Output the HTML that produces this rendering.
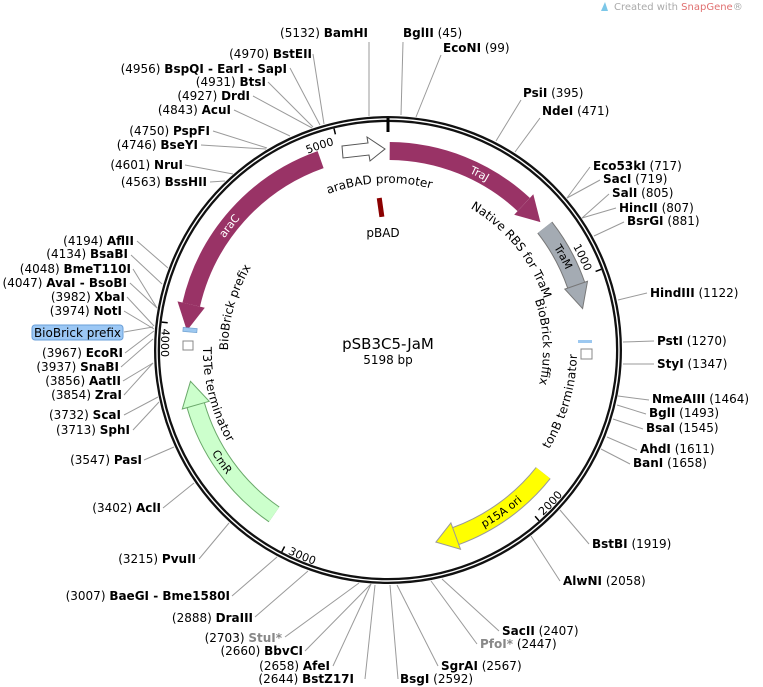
<!DOCTYPE html>
<html><head><meta charset="utf-8">
<style>
html,body{margin:0;padding:0;background:#fff;}
svg{display:block;font-family:"DejaVu Sans","Liberation Sans",sans-serif;}
.n{font-size:11px;fill:#000;}
.e{font-size:12px;}
.b{font-weight:bold;}
.g{fill:#888;}
.ln{stroke:#9a9a9a;stroke-width:1;fill:none;}
.fl{font-size:12px;}
</style></head>
<body>
<svg width="763" height="687" viewBox="0 0 763 687" xmlns="http://www.w3.org/2000/svg">
<defs>
<path id="p5000" d="M270.4,173.6 A212,212 0 0 1 334.2,144.9"/>
<path id="p1000" d="M548.6,211.6 A212,212 0 0 1 585,271.6"/>
<path id="p2000" d="M536,511.5 A219,219 0 0 0 582.3,451.1"/>
<path id="p3000" d="M289.3,545.5 A219,219 0 0 0 362.1,567.5"/>
<path id="p4000" d="M170.2,327.1 A219,219 0 0 0 175.5,403"/>
<path id="tTraJ" d="M422.5,154 A199,199 0 0 1 528.7,209.3"/>
<path id="tTraM" d="M540.4,222.1 A199,199 0 0 1 579.3,295.2"/>
<path id="taraC" d="M202.1,271.1 A202,202 0 0 1 266.4,188.7"/>
<path id="tCmR" d="M196.7,408.5 A200,200 0 0 0 262.1,505.4"/>
<path id="tori" d="M459,534.9 A198,198 0 0 0 537.4,479.9"/>
<path id="tara" d="M287.5,216.6 A167,167 0 0 1 474,206.8"/>
<path id="trbs" d="M457.3,201.4 A164,164 0 0 1 547.8,313.1"/>
<path id="tsuf" d="M524.9,277.2 A155,155 0 0 1 531.7,408.1"/>
<path id="tton" d="M515.3,477.3 A180,180 0 0 0 564.1,312.6"/>
<path id="tpre" d="M233.5,391.4 A160,160 0 0 1 276.9,234.9"/>
<path id="tt3" d="M218,304.5 A176,176 0 0 0 261.4,472.3"/>
</defs>

<path d="M601,11 L605,2 L608,11 Z" fill="#7cc7e8"/>
<text x="614" y="10" style="font-size:10px" fill="#aaa">Created with <tspan fill="#e07070">SnapGene</tspan>®</text>

<circle cx="388" cy="350" r="231" fill="none" stroke="#111" stroke-width="6"/>
<circle cx="388" cy="350" r="231" fill="none" stroke="#fff" stroke-width="1.4"/>

<line x1="388" y1="118" x2="388" y2="132" stroke="#000" stroke-width="3"/>
<line x1="335.4" y1="134.3" x2="334" y2="128.5" stroke="#000" stroke-width="1.5"/>
<line x1="595.6" y1="271.4" x2="601.2" y2="269.3" stroke="#000" stroke-width="1.5"/>
<line x1="535.1" y1="516.3" x2="539" y2="520.8" stroke="#000" stroke-width="1.5"/>
<line x1="284.6" y1="546.5" x2="281.8" y2="551.8" stroke="#000" stroke-width="1.5"/>
<line x1="167.7" y1="322.8" x2="161.7" y2="322.1" stroke="#000" stroke-width="1.5"/>
<text class="n"><textPath href="#p5000" startOffset="100%" text-anchor="end">5000</textPath></text>
<text class="n"><textPath href="#p1000" startOffset="100%" text-anchor="end">1000</textPath></text>
<text class="n" dominant-baseline="hanging"><textPath href="#p2000" startOffset="2">2000</textPath></text>
<text class="n" dominant-baseline="hanging"><textPath href="#p3000" startOffset="2">3000</textPath></text>
<text class="n" dominant-baseline="hanging"><textPath href="#p4000" startOffset="2">4000</textPath></text>

<path d="M389.7,151 A199,199 0 0 1 523.7,204.5" fill="none" stroke="#993366" stroke-width="18"/>
<polygon points="514.2,214.7 533.3,194.2 540.4,222.1" fill="#993366"/>
<path d="M544.8,227.5 A199,199 0 0 1 576.2,285.2" fill="none" stroke="#777" stroke-width="19"/>
<path d="M544.8,227.5 A199,199 0 0 1 576.2,285.2" fill="none" stroke="#a4abb3" stroke-width="17"/>
<polygon points="564.8,289.1 587.5,281.3 582.6,308.6" fill="#a4abb3" stroke="#777" stroke-width="1"/>
<path d="M320.6,159.6 A202,202 0 0 0 191.2,304.6" fill="none" stroke="#993366" stroke-width="18"/>
<polygon points="204.8,307.7 177.5,301.4 186.9,330.6" fill="#993366"/>
<path d="M274.1,514.4 A200,200 0 0 1 195.7,405.1" fill="none" stroke="#6aa86a" stroke-width="19"/>
<path d="M274.1,514.4 A200,200 0 0 1 195.7,405.1" fill="none" stroke="#ccffcc" stroke-width="17"/>
<polygon points="209.2,401.3 182.3,409 190.5,381.3" fill="#ccffcc" stroke="#6aa86a" stroke-width="1"/>
<path d="M543.2,473 A198,198 0 0 1 455.7,536.1" fill="none" stroke="#999" stroke-width="19"/>
<path d="M543.2,473 A198,198 0 0 1 455.7,536.1" fill="none" stroke="#ffff00" stroke-width="17"/>
<polygon points="450.9,522.9 460.5,549.2 435.9,542.1" fill="#ffff00" stroke="#999" stroke-width="1"/>
<polygon points="342,146 368,143 367,137 385,149 370,161 369,155 343,158" fill="#fff" stroke="#555" stroke-width="1"/>
<rect x="378" y="198" width="5" height="19" fill="#8b0000" transform="rotate(-8 380 207)"/>
<rect x="183" y="328" width="14" height="4" fill="#9cc8f0" stroke="#6fa0d0" stroke-width="0.7" transform="rotate(5 190 330)"/>
<rect x="183" y="341" width="10" height="9" fill="#fff" stroke="#888"/>
<rect x="578" y="340" width="14" height="3" fill="#9cc8f0"/>
<rect x="581" y="349" width="11" height="10" fill="#fff" stroke="#888"/>

<text class="n" style="fill:#fff" dominant-baseline="central"><textPath href="#tTraJ" startOffset="50%" text-anchor="middle">TraJ</textPath></text>
<text class="n" dominant-baseline="central"><textPath href="#tTraM" startOffset="50%" text-anchor="middle">TraM</textPath></text>
<text class="n" style="fill:#fff" dominant-baseline="central"><textPath href="#taraC" startOffset="50%" text-anchor="middle">araC</textPath></text>
<text class="n" dominant-baseline="central"><textPath href="#tCmR" startOffset="50%" text-anchor="middle">CmR</textPath></text>
<text class="n" dominant-baseline="central"><textPath href="#tori" startOffset="50%" text-anchor="middle">p15A ori</textPath></text>
<text class="n fl"><textPath href="#tara" startOffset="50%" text-anchor="middle">araBAD promoter</textPath></text>
<text class="n fl"><textPath href="#trbs" startOffset="50%" text-anchor="middle">Native RBS for TraM</textPath></text>
<text class="n fl"><textPath href="#tsuf" startOffset="50%" text-anchor="middle">BioBrick suffix</textPath></text>
<text class="n fl" dominant-baseline="hanging"><textPath href="#tton" startOffset="50%" text-anchor="middle">tonB terminator</textPath></text>
<text class="n fl"><textPath href="#tpre" startOffset="50%" text-anchor="middle">BioBrick prefix</textPath></text>
<text class="n fl" dominant-baseline="hanging"><textPath href="#tt3" startOffset="50%" text-anchor="middle">T3Te terminator</textPath></text>
<text class="n fl" x="383" y="237" text-anchor="middle">pBAD</text>

<text x="388" y="349" text-anchor="middle" style="font-size:15px">pSB3C5-JaM</text>
<text x="388" y="364" text-anchor="middle" style="font-size:12px">5198 bp</text>

<g class="ln">
<line x1="369" y1="116" x2="369" y2="42"/>
<line x1="401" y1="115" x2="403" y2="42"/>
<line x1="416" y1="117" x2="441" y2="55"/>
<line x1="496" y1="141" x2="521" y2="100"/>
<line x1="515" y1="152" x2="540" y2="118"/>
<line x1="567" y1="198" x2="590" y2="167"/>
<line x1="567" y1="198" x2="600" y2="180"/>
<line x1="582" y1="218" x2="609" y2="194"/>
<line x1="582" y1="218" x2="616" y2="208"/>
<line x1="594" y1="236" x2="624" y2="222"/>
<line x1="618" y1="300" x2="647" y2="293"/>
<line x1="623" y1="342" x2="654" y2="341"/>
<line x1="623" y1="364" x2="654" y2="364"/>
<line x1="618" y1="396" x2="649" y2="400"/>
<line x1="617" y1="405" x2="646" y2="414"/>
<line x1="613" y1="419" x2="643" y2="429"/>
<line x1="607" y1="437" x2="637" y2="450"/>
<line x1="601" y1="449" x2="630" y2="464"/>
<line x1="560" y1="510" x2="589" y2="544"/>
<line x1="531" y1="536" x2="560" y2="581"/>
<line x1="442" y1="579" x2="499" y2="631"/>
<line x1="431" y1="581" x2="477" y2="644"/>
<line x1="397" y1="585" x2="438" y2="666"/>
<line x1="390" y1="585" x2="398" y2="679"/>
<line x1="375" y1="585" x2="365" y2="679"/>
<line x1="371" y1="584" x2="333" y2="666"/>
<line x1="371" y1="584" x2="305" y2="651"/>
<line x1="359" y1="583" x2="285" y2="637"/>
<line x1="308" y1="571" x2="255" y2="617"/>
<line x1="277" y1="557" x2="232" y2="596"/>
<line x1="229" y1="523" x2="199" y2="559"/>
<line x1="194" y1="483" x2="163" y2="508"/>
<line x1="174" y1="447" x2="144" y2="460"/>
<line x1="159" y1="402" x2="133" y2="430"/>
<line x1="158" y1="397" x2="124" y2="415"/>
<line x1="153" y1="363" x2="124" y2="395"/>
<line x1="153" y1="363" x2="123" y2="381"/>
<line x1="153" y1="339" x2="121" y2="367"/>
<line x1="154" y1="331" x2="125" y2="353"/>
<line x1="153" y1="327" x2="124" y2="332"/>
<line x1="154" y1="329" x2="124" y2="311"/>
<line x1="154" y1="326" x2="127" y2="297"/>
<line x1="157" y1="308" x2="130" y2="283"/>
<line x1="157" y1="308" x2="133" y2="269"/>
<line x1="162" y1="284" x2="131" y2="255"/>
<line x1="168" y1="268" x2="137" y2="241"/>
<line x1="225" y1="181" x2="210" y2="182"/>
<line x1="233" y1="174" x2="185" y2="165"/>
<line x1="266" y1="149" x2="201" y2="145"/>
<line x1="267" y1="148" x2="213" y2="131"/>
<line x1="290" y1="136" x2="234" y2="110"/>
<line x1="312" y1="128" x2="253" y2="96"/>
<line x1="313" y1="127" x2="268" y2="82"/>
<line x1="320" y1="125" x2="290" y2="68"/>
<line x1="324" y1="124" x2="313" y2="54"/>
</g>

<g class="n e">
<text x="403" y="37"><tspan class="b">BglII</tspan> (45)</text>
<text x="443" y="52"><tspan class="b">EcoNI</tspan> (99)</text>
<text x="523" y="97"><tspan class="b">PsiI</tspan> (395)</text>
<text x="542" y="115"><tspan class="b">NdeI</tspan> (471)</text>
<text x="593" y="170"><tspan class="b">Eco53kI</tspan> (717)</text>
<text x="603" y="183"><tspan class="b">SacI</tspan> (719)</text>
<text x="612" y="197"><tspan class="b">SalI</tspan> (805)</text>
<text x="619" y="212"><tspan class="b">HincII</tspan> (807)</text>
<text x="627" y="225"><tspan class="b">BsrGI</tspan> (881)</text>
<text x="650" y="297"><tspan class="b">HindIII</tspan> (1122)</text>
<text x="657" y="345"><tspan class="b">PstI</tspan> (1270)</text>
<text x="657" y="368"><tspan class="b">StyI</tspan> (1347)</text>
<text x="652" y="403"><tspan class="b">NmeAIII</tspan> (1464)</text>
<text x="649" y="417"><tspan class="b">BglI</tspan> (1493)</text>
<text x="646" y="432"><tspan class="b">BsaI</tspan> (1545)</text>
<text x="640" y="453"><tspan class="b">AhdI</tspan> (1611)</text>
<text x="633" y="467"><tspan class="b">BanI</tspan> (1658)</text>
<text x="592" y="548"><tspan class="b">BstBI</tspan> (1919)</text>
<text x="563" y="585"><tspan class="b">AlwNI</tspan> (2058)</text>
<text x="502" y="635"><tspan class="b">SacII</tspan> (2407)</text>
<text x="480" y="648"><tspan class="b g">PfoI*</tspan> (2447)</text>
<text x="441" y="670"><tspan class="b">SgrAI</tspan> (2567)</text>
<text x="400" y="683"><tspan class="b">BsgI</tspan> (2592)</text>
</g>
<g class="n e" text-anchor="end">
<text x="368" y="37">(5132) <tspan class="b">BamHI</tspan></text>
<text x="312" y="58">(4970) <tspan class="b">BstEII</tspan></text>
<text x="287" y="73">(4956) <tspan class="b">BspQI - EarI - SapI</tspan></text>
<text x="266" y="86">(4931) <tspan class="b">BtsI</tspan></text>
<text x="250" y="100">(4927) <tspan class="b">DrdI</tspan></text>
<text x="231" y="114">(4843) <tspan class="b">AcuI</tspan></text>
<text x="210" y="135">(4750) <tspan class="b">PspFI</tspan></text>
<text x="198" y="149">(4746) <tspan class="b">BseYI</tspan></text>
<text x="183" y="169">(4601) <tspan class="b">NruI</tspan></text>
<text x="207" y="186">(4563) <tspan class="b">BssHII</tspan></text>
<text x="134" y="245">(4194) <tspan class="b">AflII</tspan></text>
<text x="128" y="258">(4134) <tspan class="b">BsaBI</tspan></text>
<text x="131" y="273">(4048) <tspan class="b">BmeT110I</tspan></text>
<text x="127" y="287">(4047) <tspan class="b">AvaI - BsoBI</tspan></text>
<text x="125" y="301">(3982) <tspan class="b">XbaI</tspan></text>
<text x="122" y="315">(3974) <tspan class="b">NotI</tspan></text>
<text x="123" y="357">(3967) <tspan class="b">EcoRI</tspan></text>
<text x="119" y="371">(3937) <tspan class="b">SnaBI</tspan></text>
<text x="121" y="385">(3856) <tspan class="b">AatII</tspan></text>
<text x="122" y="399">(3854) <tspan class="b">ZraI</tspan></text>
<text x="121" y="419">(3732) <tspan class="b">ScaI</tspan></text>
<text x="130" y="434">(3713) <tspan class="b">SphI</tspan></text>
<text x="142" y="464">(3547) <tspan class="b">PasI</tspan></text>
<text x="161" y="512">(3402) <tspan class="b">AclI</tspan></text>
<text x="196" y="563">(3215) <tspan class="b">PvuII</tspan></text>
<text x="230" y="600">(3007) <tspan class="b">BaeGI - Bme1580I</tspan></text>
<text x="253" y="622">(2888) <tspan class="b">DraIII</tspan></text>
<text x="282" y="642">(2703) <tspan class="b g">StuI*</tspan></text>
<text x="303" y="655">(2660) <tspan class="b">BbvCI</tspan></text>
<text x="330" y="670">(2658) <tspan class="b">AfeI</tspan></text>
<text x="354" y="683">(2644) <tspan class="b">BstZ17I</tspan></text>
</g>
<rect x="32" y="325" width="91" height="15" rx="3" fill="#9cc8f5" stroke="#6a9fd8"/>
<text x="77.5" y="337" text-anchor="middle" style="font-size:12px">BioBrick prefix</text>
</svg>
</body></html>
